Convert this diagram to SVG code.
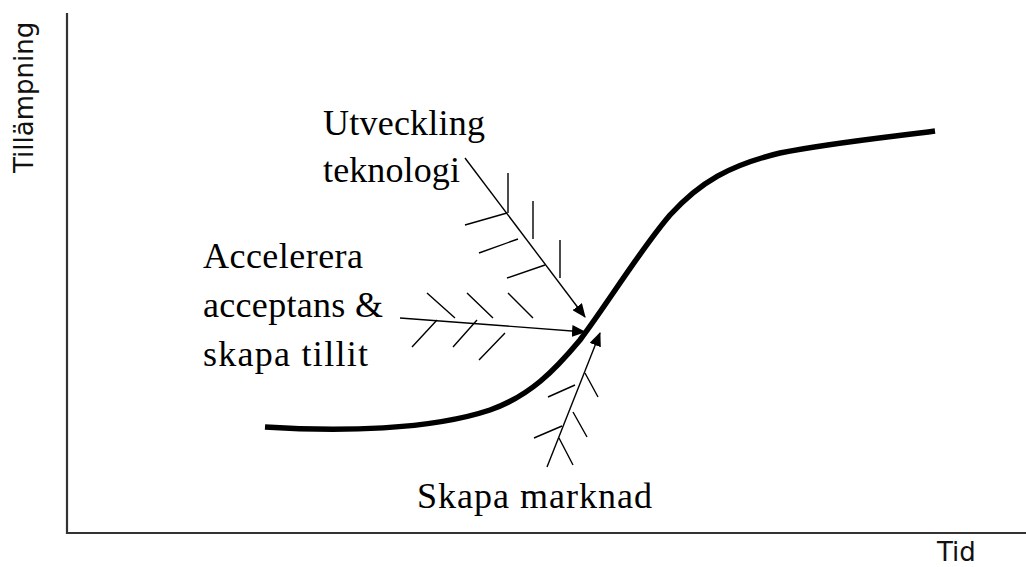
<svg xmlns="http://www.w3.org/2000/svg" width="1026" height="567" viewBox="0 0 1026 567">
<defs>
<style>
.serif{font-family:"Liberation Serif","Times New Roman",serif;font-size:36px;fill:#000}
.sans{font-family:"DejaVu Sans",sans-serif;font-size:26px;fill:#111}
.thin{stroke:#000;stroke-width:1.4;fill:none}
.axis{stroke:#333;stroke-width:2.2;fill:none}
</style>
<marker id="ah" markerUnits="userSpaceOnUse" markerWidth="14" markerHeight="12" refX="13" refY="6" orient="auto">
<path d="M0,0 L14,6 L0,12 z" fill="#000"/>
</marker>
</defs>
<rect width="1026" height="567" fill="#fff"/>
<g id="axes">
<path class="axis" d="M67,13 L67,533 L1026,533"/>
<text class="sans" transform="translate(33,173) rotate(-90)">Tillämpning</text>
<text class="sans" x="937" y="561">Tid</text>
</g>
<g id="curve">
<path d="M265,427 C340,432 430,430 490,410 C530,396 555,370 580,340 C610,300 640,250 670,215 C700,182 730,165 780,153 C830,143 890,137 935,131" stroke="#000" stroke-width="5.5" fill="none"/>
</g>
<g id="utveckling">
<text class="serif" x="323" y="135" textLength="162">Utveckling</text>
<text class="serif" x="323" y="182" textLength="137">teknologi</text>
</g>
<g id="accelerera">
<text class="serif" x="203" y="268" textLength="160">Accelerera</text>
<text class="serif" x="203" y="317" textLength="180">acceptans &amp;</text>
<text class="serif" x="203" y="366" textLength="165">skapa tillit</text>
</g>
<g id="skapa">
<text class="serif" x="417" y="508" textLength="235">Skapa marknad</text>
</g>
<g id="connectors">
<line class="thin" x1="465" y1="158" x2="585" y2="317" marker-end="url(#ah)"/>
<path class="thin" d="M508,173 L508,213 M507,213 L465,225 M533,201 L533,239 M518,239 L479,253 M560,240 L560,278 M545,265 L507,278"/>
<line class="thin" x1="400" y1="318" x2="585" y2="332" marker-end="url(#ah)"/>
<path class="thin" d="M427,293 L455,318 M467,293 L493,318 M508,293 L533,318 M412,347 L437,320 M453,347 L477,320 M479,360 L505,333"/>
<line class="thin" x1="547" y1="467" x2="600" y2="333" marker-end="url(#ah)"/>
<path class="thin" d="M559,438 L573,465 M534,438 L562,426 M573,412 L587,437 M548,397 L575,385 M585,373 L598,397"/>
</g>
</svg>
